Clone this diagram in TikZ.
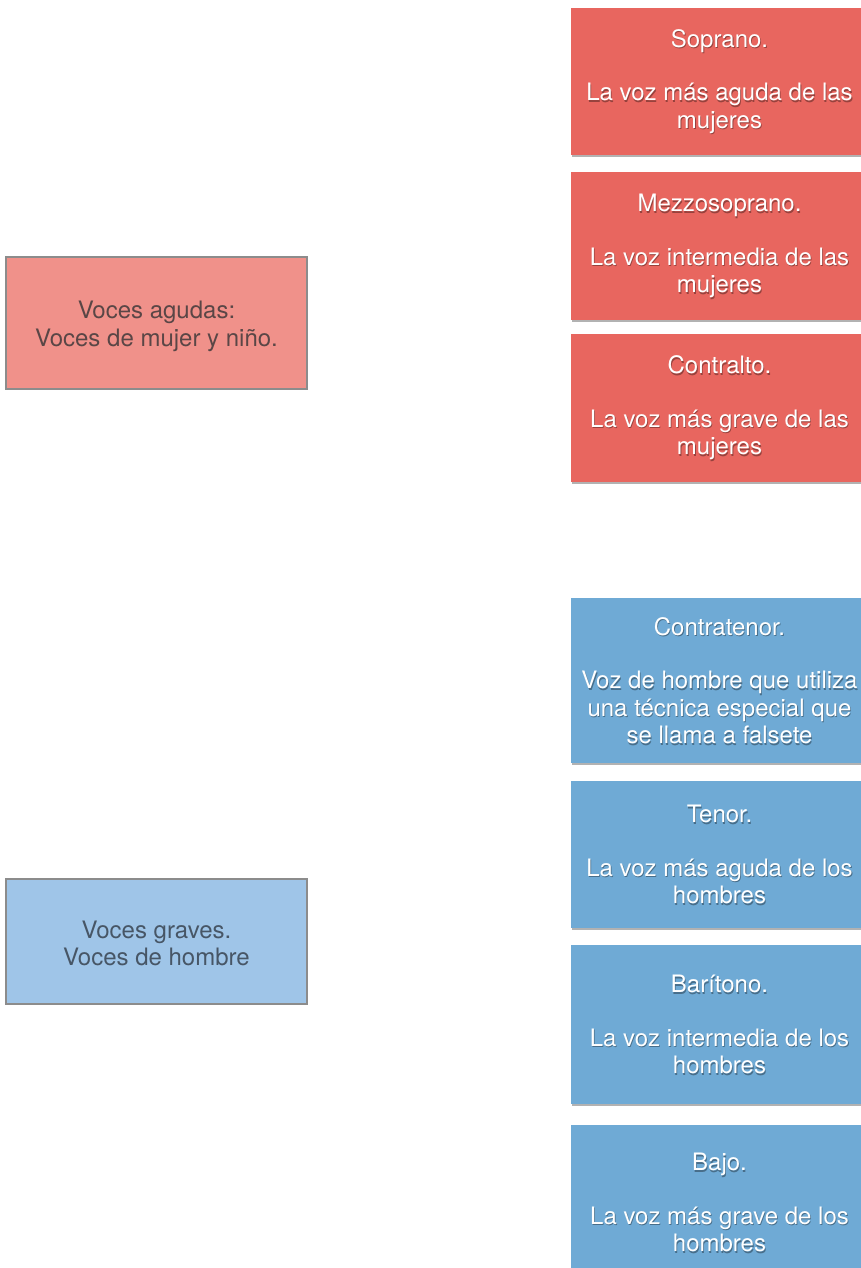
\documentclass[tikz,border=0pt]{standalone}
\usepackage{fontspec}
\setmainfont{TeX Gyre Heros}
\usetikzlibrary{shadows}
\definecolor{pinkL}{HTML}{F0918A}
\definecolor{redR}{HTML}{E8665F}
\definecolor{blueL}{HTML}{9FC5E8}
\definecolor{blueR}{HTML}{6FAAD5}
\definecolor{edgeGray}{HTML}{8C8C8C}
\definecolor{txtPink}{HTML}{5A4646}
\definecolor{txtBlue}{HTML}{475666}
\newcommand\voicebox[5]{% name, style, y-centre, height, text
  \node[#2, minimum height=#4] (#1) at (719.5,#3) {};
  \node[txtshadow] (#1s) at ([shift={(0.8,1.6)}]#1.center) {#5};
  \node[txtwhite] (#1t) at (#1.center) {#5};
}
\begin{document}
\begin{tikzpicture}[x=1pt,y=-1pt,
  basefont/.style={font=\fontsize{24}{27.5}\selectfont},
  leftbox/.style={basefont, draw=edgeGray, line width=1.2pt, minimum width=301pt,
    inner sep=0pt, align=center},
  pinkbox/.style={leftbox, fill=pinkL, text=txtPink},
  lbluebox/.style={leftbox, fill=blueL, text=txtBlue},
  rightbox/.style={draw=none, minimum width=297pt, inner sep=0pt,
    drop shadow={shadow xshift=1pt, shadow yshift=-2pt, opacity=0.3, fill=black}},
  redbox/.style={rightbox, fill=redR},
  rbluebox/.style={rightbox, fill=blueR},
  txtwhite/.style={basefont, text=white, align=center, inner sep=0pt},
  txtshadow/.style={basefont, text=black, text opacity=0.35, align=center, inner sep=0pt}
]
\useasboundingbox (0,0) rectangle (861,1268);
\clip (0,0) rectangle (861,1268);

\node[pinkbox, minimum height=132pt] (agudas) at (156.5,323) {};
\node[text=txtPink, basefont, align=center, inner sep=0pt] (agudast) at ([yshift=-3pt]agudas.center)
  {Voces agudas:\\[0.5pt]Voces de mujer y niño.};
\node[lbluebox, minimum height=125pt] (graves) at (156.5,941.5) {};
\node[text=txtBlue, basefont, align=center, inner sep=0pt] (gravest) at ([yshift=-2pt]graves.center)
  {Voces graves.\\Voces de hombre};

\voicebox{soprano}{redbox}{81.5}{147pt}{Soprano.\\[26pt]La voz más aguda de las\\mujeres}
\voicebox{mezzo}{redbox}{246}{148pt}{Mezzosoprano.\\[26pt]La voz intermedia de las\\mujeres}
\voicebox{contralto}{redbox}{408}{148pt}{Contralto.\\[26pt]La voz más grave de las\\mujeres}

\voicebox{contratenor}{rbluebox}{680.5}{165pt}{Contratenor.\\[26pt]Voz de hombre que utiliza\\una técnica especial que\\se llama a falsete}
\voicebox{tenor}{rbluebox}{854.5}{147pt}{Tenor.\\[26pt]La voz más aguda de los\\hombres}
\voicebox{baritono}{rbluebox}{1024.5}{159pt}{Barítono.\\[26pt]La voz intermedia de los\\hombres}
\voicebox{bajo}{rbluebox}{1202.5}{155pt}{Bajo.\\[26pt]La voz más grave de los\\hombres}
\end{tikzpicture}
\end{document}
